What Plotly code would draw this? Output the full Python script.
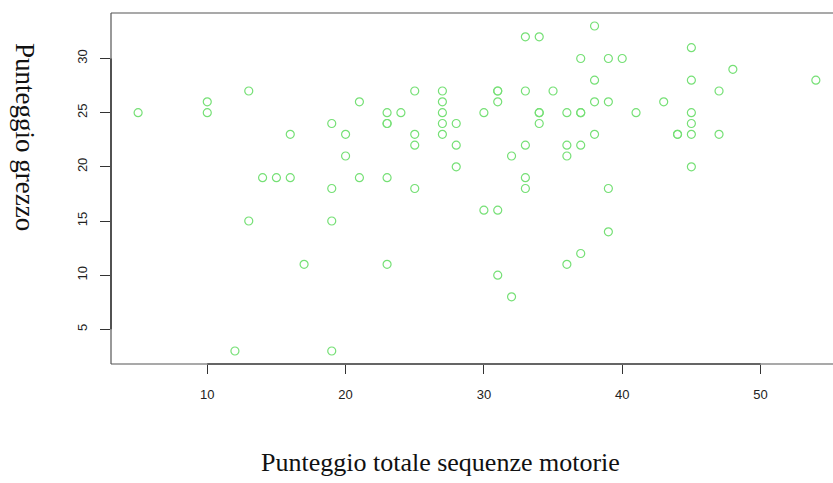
import plotly.graph_objects as go

# Motor-sequence total score vs raw score
sequenze_motorie = [
    5, 10, 10, 13, 16, 19, 20, 20, 21, 14, 15, 16, 19, 21, 13, 19, 17, 12, 19,
    38, 33, 34, 37, 38, 25, 27, 31, 31, 33, 35, 27, 31, 38, 23, 24, 27, 30, 34, 34,
    36, 37, 37, 23, 23, 27, 28, 34, 25, 27, 38, 25, 28, 33, 36, 37, 32, 36, 28, 23,
    33, 25, 33, 30, 31, 23, 31, 32, 36, 37,
    45, 39, 40, 48, 45, 54, 47, 39, 43, 41, 45, 45, 44, 44, 45, 47, 45, 39, 39,
]
punteggio_grezzo = [
    25, 26, 25, 27, 23, 24, 23, 21, 26, 19, 19, 19, 18, 19, 15, 15, 11, 3, 3,
    33, 32, 32, 30, 28, 27, 27, 27, 27, 27, 27, 26, 26, 26, 25, 25, 25, 25, 25, 25,
    25, 25, 25, 24, 24, 24, 24, 24, 23, 23, 23, 22, 22, 22, 22, 22, 21, 21, 20, 19,
    19, 18, 18, 16, 16, 11, 10, 8, 11, 12,
    31, 30, 30, 29, 28, 28, 27, 26, 26, 25, 25, 24, 23, 23, 23, 23, 20, 18, 14,
]

x_ticks = [10, 20, 30, 40, 50]
y_ticks = [5, 10, 15, 20, 25, 30]

x_title = "Punteggio totale sequenze motorie"
y_title = "Punteggio grezzo"

fig = go.Figure(
    go.Scatter(
        x=sequenze_motorie,
        y=punteggio_grezzo,
        mode="markers",
        marker=dict(
            symbol="circle-open",
            size=8,
            color="rgb(118,224,118)",
            line=dict(width=1.2, color="rgb(118,224,118)"),
        ),
        hoverinfo="x+y",
    )
)

tick_font = dict(family="Liberation Sans, Arial, sans-serif", size=13, color="#222")

fig.update_layout(
    width=833,
    height=483,
    margin=dict(l=111, r=0, t=13, b=119),
    paper_bgcolor="white",
    plot_bgcolor="white",
    showlegend=False,
    xaxis=dict(
        range=[3.04, 55.24],
        tickvals=x_ticks,
        ticks="outside",
        ticklen=9,
        tickcolor="#333",
        tickwidth=1,
        showgrid=False,
        zeroline=False,
        showline=False,
        tickfont=tick_font,
        ticklabelstandoff=9,
    ),
    yaxis=dict(
        range=[1.8, 34.2],
        tickvals=y_ticks,
        ticks="outside",
        ticklen=10,
        tickcolor="#333",
        tickwidth=1,
        tickangle=-90,
        showgrid=False,
        zeroline=False,
        showline=False,
        tickfont=tick_font,
        ticklabelstandoff=8,
    ),
)

# Plot frame (left, top, bottom); the right side runs past the page edge
box = dict(color="#555", width=1.2)
fig.add_shape(type="line", xref="paper", yref="paper", x0=0, x1=0, y0=0, y1=1, line=box)
fig.add_shape(type="line", xref="paper", yref="paper", x0=0, x1=1, y0=1, y1=1, line=box)
fig.add_shape(type="line", xref="paper", yref="paper", x0=0, x1=1, y0=0, y1=0, line=box)

# Axis lines spanning first to last tick
axis_line = dict(color="#222", width=1.2)
fig.add_shape(type="line", xref="x", yref="paper", x0=x_ticks[0], x1=x_ticks[-1], y0=0, y1=0, line=axis_line)
fig.add_shape(type="line", xref="paper", yref="y", x0=0, x1=0, y0=y_ticks[0], y1=y_ticks[-1], line=axis_line)

serif = "Liberation Serif, Times New Roman, serif"
fig.add_annotation(
    text=x_title, xref="paper", yref="paper",
    x=(440 - 111) / 722, y=-(462 - 364) / 351,
    xanchor="center", yanchor="middle", showarrow=False,
    font=dict(family=serif, size=26, color="#111"),
)
fig.add_annotation(
    text=y_title, xref="paper", yref="paper",
    x=-(111 - 25) / 722, y=(364 - 137) / 351,
    xanchor="center", yanchor="middle", textangle=90, showarrow=False,
    font=dict(family=serif, size=27, color="#111"),
)

fig.write_html("out.html")
